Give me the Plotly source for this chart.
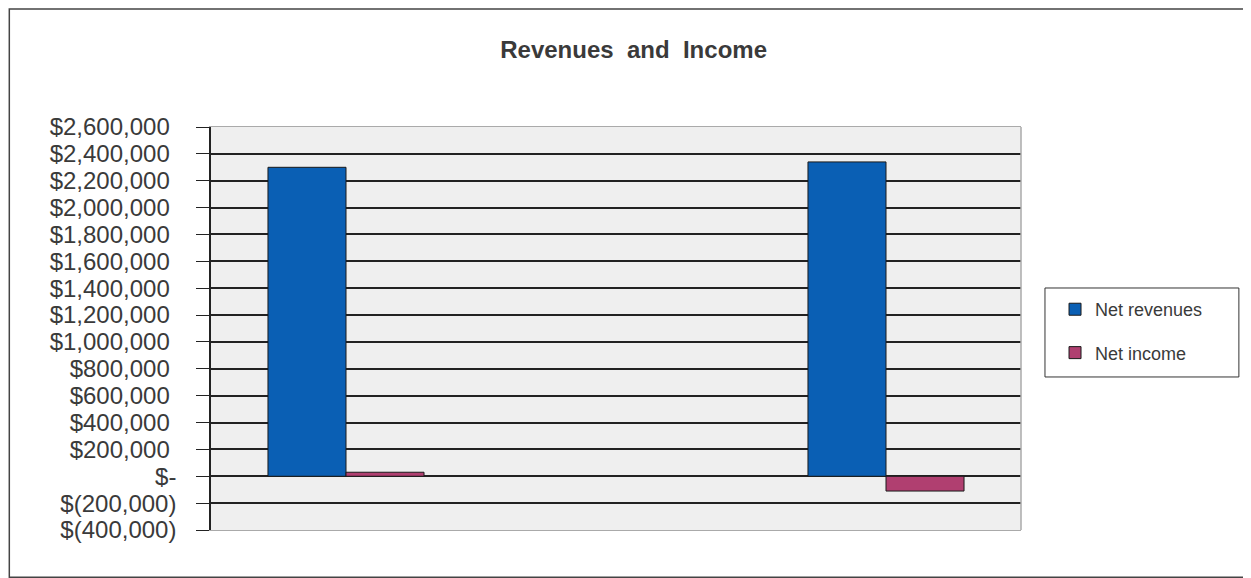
import plotly.graph_objects as go

categories = ["Period 1", "Period 2", "Period 3"]
net_revenues = [2300000, None, 2340000]
net_income = [30000, None, -110000]
tick_values = [2600000, 2400000, 2200000, 2000000, 1800000, 1600000, 1400000,
               1200000, 1000000, 800000, 600000, 400000, 200000, 0, -200000, -400000]
tick_labels = ["$2,600,000", "$2,400,000", "$2,200,000", "$2,000,000", "$1,800,000",
               "$1,600,000", "$1,400,000", "$1,200,000", "$1,000,000", "$800,000",
               "$600,000", "$400,000", "$200,000", "$-", "$(200,000)", "$(400,000)"]

# Excel accounting format pads positive numbers with a space the width of ")"
tick_text = [t if (t.endswith(")") or t.endswith("-")) else t + "\u00a0" for t in tick_labels]

fig = go.Figure()
fig.add_trace(go.Bar(x=categories, y=net_revenues, name="Net revenues",
                     marker=dict(color="#0a5fb4", line=dict(color="#1a1a1a", width=1)),
                     legendgroup="a"))
fig.add_trace(go.Bar(x=categories, y=net_income, name="Net income",
                     marker=dict(color="#b03f70", line=dict(color="#1a1a1a", width=1)),
                     legendgroup="b"))

fig.update_layout(
    width=1243, height=570,
    margin=dict(l=203, r=230, t=119, b=48),
    paper_bgcolor="white",
    plot_bgcolor="#efefef",
    barmode="group",
    bargap=0.422,
    bargroupgap=0,
    font=dict(family="Liberation Sans, Arial, sans-serif", color="#3a3a3a"),
    title=dict(text="<b>Revenues\u00a0 and\u00a0 Income</b>", x=0.5033, xanchor="center",
               y=0.927, yanchor="middle",
               font=dict(size=24, color="#3a3a3a")),
    showlegend=True,
    legend=dict(x=1.042, y=0.593, xanchor="left", yanchor="top",
                bgcolor="rgba(0,0,0,0)", borderwidth=0,
                font=dict(size=18, color="#3a3a3a"),
                traceorder="grouped", tracegroupgap=17,
                itemwidth=30),
    xaxis=dict(showticklabels=False, showgrid=False, zeroline=False,
               showline=True, linecolor="#aaaaaa", mirror=True, ticks=""),
    yaxis=dict(range=[-400000, 2600000], tickvals=tick_values, ticktext=tick_text,
               showgrid=True, gridcolor="#222222", gridwidth=1.5,
               zeroline=True, zerolinecolor="#222222", zerolinewidth=1.5,
               showline=True, linecolor="#222222", linewidth=1.5,
               ticks="outside", ticklen=13, tickcolor="#222222",
               tickfont=dict(size=24, color="#3a3a3a"),
               ticklabelstandoff=15),
    shapes=[
        dict(type="rect", xref="paper", yref="paper", x0=1.0, x1=1.0, y0=0, y1=1,
             line=dict(color="#aaaaaa", width=1)),
        dict(type="rect", xref="paper", yref="paper", x0=1.0296, x1=1.269,
             y0=0.3797, y1=0.6005, line=dict(color="#333333", width=1),
             fillcolor="white", layer="below"),
        dict(type="rect", xref="paper", yref="paper", x0=-0.249, x1=1.279,
             y0=-0.117, y1=1.2925, line=dict(color="#444444", width=1.5),
             layer="below"),
    ],
)

fig.write_html("out.html")
